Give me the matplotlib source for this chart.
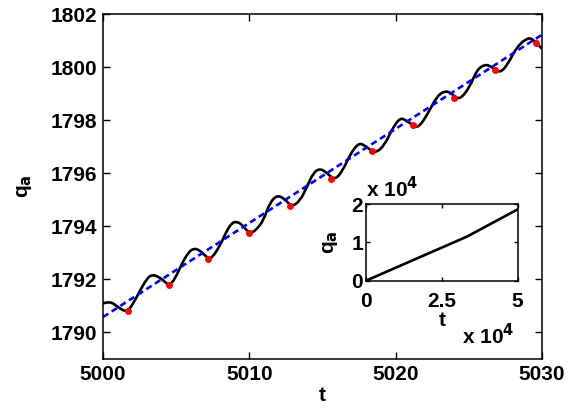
import matplotlib
matplotlib.use("Agg")
import matplotlib.pyplot as plt
from matplotlib.path import Path
from matplotlib.patches import PathPatch

plt.rcParams['font.family'] = ['Liberation Sans', 'DejaVu Sans']
plt.rcParams['font.weight'] = 'bold'

# Main curve q_a(t)
t_curve = [5000.00, 5000.48, 5001.05, 5001.62, 5002.07, 5002.53, 5002.99, 5003.33, 5003.78,
           5004.24, 5004.54, 5004.92, 5005.38, 5005.83, 5006.24, 5006.63, 5006.97, 5007.35,
           5008.00, 5008.45, 5008.80, 5009.09, 5009.48, 5009.82, 5010.16, 5010.52, 5010.95,
           5011.41, 5011.91, 5012.44, 5012.90, 5013.46, 5013.92, 5014.37, 5014.83, 5015.29,
           5015.85, 5016.42, 5016.88, 5017.45, 5017.90, 5018.59, 5019.27, 5019.73, 5020.30,
           5020.75, 5021.12, 5021.55, 5022.23, 5022.80, 5023.37, 5023.83, 5024.35, 5025.08,
           5025.54, 5026.11, 5026.56, 5027.13, 5027.70, 5028.27, 5029.02, 5029.41, 5029.98]
q_curve = [1791.09, 1791.19, 1790.94, 1790.76, 1791.09, 1791.58, 1792.02, 1792.18, 1792.11,
           1791.90, 1791.78, 1792.02, 1792.58, 1793.02, 1793.18, 1793.08, 1792.90, 1792.73,
           1793.27, 1793.83, 1794.12, 1794.18, 1794.08, 1793.83, 1793.75, 1793.90, 1794.21,
           1794.90, 1795.18, 1795.02, 1794.73, 1794.96, 1795.46, 1796.02, 1796.18, 1796.02,
           1795.73, 1796.14, 1796.70, 1797.14, 1797.05, 1796.73, 1797.08, 1797.64, 1798.10,
           1797.98, 1797.83, 1797.70, 1798.27, 1798.89, 1799.11, 1799.01, 1798.74, 1799.26,
           1799.89, 1800.11, 1800.01, 1799.76, 1800.14, 1800.76, 1801.11, 1801.04, 1800.70]

# Red sampled points
t_dots = [5001.69, 5004.49, 5007.20, 5009.98, 5012.78, 5015.58, 5018.41, 5021.17, 5024.00, 5026.79, 5029.57]
q_dots = [1790.80, 1791.77, 1792.76, 1793.76, 1794.77, 1795.78, 1796.82, 1797.83, 1798.85, 1799.88, 1800.91]

# Blue dashed trend
t_trend = [5000, 5030]
q_trend = [1790.58, 1801.22]

# Inset (long time)
t_inset = [0, 33200, 50000]
q_inset = [0, 11470, 18600]

x_ticks = [5000, 5010, 5020, 5030]
y_ticks = [1790, 1792, 1794, 1796, 1798, 1800, 1802]
inset_xticks = [0, 25000, 50000]
inset_xticklabels = ['0', '2.5', '5']
inset_yticks = [0, 10000, 20000]
inset_yticklabels = ['0', '1', '2']

FS = 15

fig = plt.figure(figsize=(5.75, 4.09), dpi=100)
ax = fig.add_axes([103/575, 1-359/409, 439/575, 345/409])

# smooth rendering of the read curve points (quadratic B-spline path, data points as controls)
pts = list(zip(t_curve, q_curve))
verts = [pts[0]]
codes = [Path.MOVETO]
for i in range(1, len(pts) - 1):
    mid = ((pts[i][0] + pts[i + 1][0]) / 2, (pts[i][1] + pts[i + 1][1]) / 2)
    verts += [pts[i], mid]
    codes += [Path.CURVE3, Path.CURVE3]
verts.append(pts[-1])
codes.append(Path.LINETO)
ax.add_patch(PathPatch(Path(verts, codes), facecolor='none', edgecolor='black',
                       lw=1.9, joinstyle='round', capstyle='round'))

ax.plot(t_trend, q_trend, color='blue', lw=1.9, linestyle=(0, (2.4, 1.5)))
ax.plot(t_dots, q_dots, 'o', color='red', markersize=5, markeredgewidth=0, zorder=5)
ax.set_xlim(5000, 5030)
ax.set_ylim(1789, 1802)
ax.set_xticks(x_ticks)
ax.set_yticks(y_ticks)
ax.tick_params(direction='in', top=True, right=True, length=5, width=1, labelsize=FS, pad=4)
for lab in ax.get_xticklabels() + ax.get_yticklabels():
    lab.set_fontweight('bold')
for s in ax.spines.values():
    s.set_linewidth(1.1)
ax.set_xlabel('t', fontsize=FS, fontweight='bold', labelpad=2)
ax.set_ylabel(r'q$_\mathbf{a}$', fontsize=FS, fontweight='bold', labelpad=12)

axi = fig.add_axes([366/575, 1-280.7/409, 151.7/575, 76.7/409])
axi.plot(t_inset, q_inset, color='black', lw=1.9)
axi.set_xlim(0, 50000)
axi.set_ylim(0, 20000)
axi.set_xticks(inset_xticks)
axi.set_xticklabels(inset_xticklabels)
axi.set_yticks(inset_yticks)
axi.set_yticklabels(inset_yticklabels)
axi.tick_params(axis='both', direction='in', top=True, right=True, length=3, width=1, labelsize=FS)
axi.tick_params(axis='x', pad=8)
axi.tick_params(axis='y', pad=2)
for lab in axi.get_xticklabels() + axi.get_yticklabels():
    lab.set_fontweight('bold')
for s in axi.spines.values():
    s.set_linewidth(1.1)
axi.set_xlabel('t', fontsize=FS, fontweight='bold', labelpad=0)
axi.set_ylabel(r'q$_\mathbf{a}$', fontsize=FS, fontweight='bold', labelpad=8)
axi.text(0.0, 1.03, r'x 10$^\mathbf{4}$', transform=axi.transAxes, fontsize=FS,
         fontweight='bold', ha='left', va='bottom')
axi.text(0.63, -0.55, r'x 10$^\mathbf{4}$', transform=axi.transAxes, fontsize=FS,
         fontweight='bold', ha='left', va='top')

fig.savefig('out.png', dpi=100)
